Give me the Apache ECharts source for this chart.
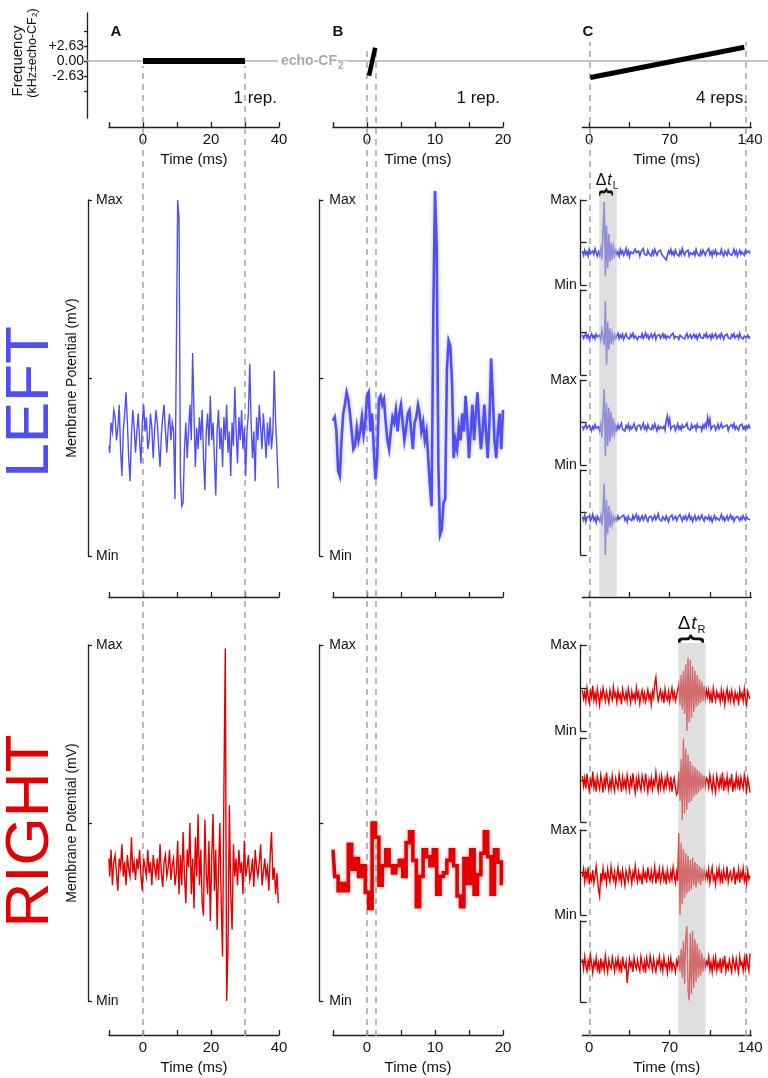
<!DOCTYPE html>
<html>
<head>
<meta charset="utf-8">
<script src="https://cdn.jsdelivr.net/npm/echarts@6.0.0/dist/echarts.min.js"></script>
<style>
html,body{margin:0;padding:0;background:#ffffff;}
#chart{width:768px;height:1078px;}
</style>
</head>
<body>
<div id="chart"></div>
<script>
// ================= DATA =================
// stimulus panel (frequency re. echo-CF2, kHz)
const freqTickValues = [-5.26, -2.63, 0, 2.63, 5.26];
const freqLabelValues = [-2.63, 0, 2.63];
const echoCF2Level = 0;
const stimA = [[0, 0], [30, 0]];
const stimB = [[0.3, -2.6], [1.2, 2.3]];
const stimC = [[1, -2.9], [135, 2.4]];
const stimMarkersA = [0, 30];
const stimMarkersB = [0, 1.35];
const stimMarkersC = [0, 136];
const responseWindowL = [8.7, 23.9];
const responseWindowR = [77.5, 101.3];
// time axes
const timeTicksC = [0, 35, 70, 105, 140];
const timeLabelsA = [0, 20, 40];
const timeLabelsB = [0, 10, 20];
const timeLabelsC = [0, 70, 140];
// membrane potential, normalised (-100 = Min, 100 = Max)
const potentialTicks = [-100, 0, 100];
const potentialLabels = [-100, 100];
// sampling [start ms, step ms]
const sampA = [-10, 0.4];
const sampBL = [-5, 0.25];
const sampBR = [-5, 0.5];
const sampC = [-6, 1];

const leftA = [-38,-42,-25,-30,-18,-22,-35,-28,-15,-40,-55,-30,-20,-8,-25,-45,-58,-32,-18,-28,-42,-30,-20,-35,-48,-25,-15,-30,-22,-40,-35,-20,-28,-45,-30,-18,-25,-38,-50,-32,-22,-15,-30,-42,-28,-20,-35,-25,-30,-68,
12,100,90,-55,-72,-70,-40,
-25,-45,-30,-15,-35,14,-20,-50,-28,-40,-22,-35,-18,-45,-63,-30,-20,-38,-10,-35,-25,-45,-66,-30,-18,-40,-28,-50,-22,-35,-15,-42,-30,-55,-25,-38,-5,-30,-48,-22,-35,-18,-40,-28,-55,-30,-20,8,-25,-45,-30,-58,-22,-35,-15,-28,-40,-20,-32,-45,-25,-38,-22,-40,-30,4,-25,-40,-62];

const leftB = [-24,-22,-30,-52,-55,-35,-20,-15,-8,-12,-20,-30,-40,-38,-28,-35,-30,-22,-32,-25,-10,-8,-30,-20,-40,-57,-45,-12,-10,-15,-12,-25,-35,-40,-30,-22,-25,-18,-30,-20,
-15,-25,-35,-28,-20,-18,-30,-40,-25,-22,-15,-20,-30,-25,-35,-30,-45,-60,
-72,36,105,74,-50,-88,-85,-70,-68,5,21,18,-2,-45,-35,-40,-28,-35,-20,-30,-10,-25,-45,-30,-15,-35,-20,-8,-25,-40,-30,-15,-30,-45,-25,11,-10,-35,-45,-30,-20,-40,-18];

const leftC1 = [-20,-30,-18,-28,-22,-32,-16,-26,-30,-20,-28,-14,-24,-32,-22,
-30,-15,-40,30,95,-80,40,-60,20,-45,0,-40,-10,-30,
-18,-28,-22,-32,-16,-26,-20,-30,-24,-14,-28,-20,-34,-22,-18,-26,-30,-16,-24,-28,
-20,-32,-22,-26,-14,-28,-24,-30,-18,-26,-22,-32,-20,-28,-16,-24,-30,-22,-26,-18,
-28,-24,-34,-38,-41,-30,-20,-26,-16,-28,-22,-30,-18,-26,-24,-32,-20,-28,-14,-24,
-30,-22,-26,-18,-32,-24,-20,-28,-22,-30,-16,-26,-24,-32,-20,-28,-18,-24,-30,-22,
-26,-14,-28,-22,-32,-20,-26,-18,-30,-24,-22,-28,-16,-26,-32,-20,-24,-30,-18,-26,
-22,-30,-24,-16,-28,-20,-32,-24,-18,-28,-22,-26,-30,-18,-24,-28,-20,-26];

const leftC2 = [-5,-14,-8,-2,-12,-6,-16,-9,-3,-12,-7,-15,-4,-10,-13,
-6,-18,5,-12,-30,73,-76,25,-40,10,-28,-2,-20,-5,
-14,-8,-2,-14,-6,-12,-4,-16,-9,-3,-11,-7,-15,-5,-10,-2,-13,-8,-4,-17,
-9,-6,-12,-3,-14,-8,-1,-11,-6,-15,-9,-4,-13,-7,-2,-16,-8,-11,-5,-14,
-9,-3,-12,-6,-15,-8,-4,-13,-7,-10,-2,-14,-9,-5,-11,-16,-6,-3,-12,-8,
-15,-7,-2,-13,-9,-5,-14,-10,-4,-12,-6,-16,-8,-3,-11,-7,-14,-5,-10,-2,
-13,-9,-6,-15,-4,-12,-8,-3,-14,-10,-6,-13,-2,-9,-16,-7,-11,-4,-12,-8,
-15,-5,-10,-3,-13,-9,-6,-14,-2,-11,-7,-15,-8,-4,-12,-6,-13,-9];

const leftC3 = [-8,-16,-10,-4,-14,-18,-7,-12,-20,-9,-15,-5,-13,-17,-10,
-20,-5,-35,20,78,-78,45,-55,35,-45,25,-35,10,-25,
-8,-18,-6,-14,-10,-2,-16,-12,-20,-7,-13,-4,-17,-9,-15,-11,-3,-14,-19,-8,
-12,-6,-16,-10,-2,-15,-9,-18,-5,-13,-11,-17,-7,-14,-3,-12,-20,-8,-15,-10,
-6,-14,-9,-18,5,16,-4,8,-16,-10,-13,-7,-19,-11,-3,-15,-9,-17,-6,-12,
-16,-8,-2,-14,-10,-18,-5,-13,-11,-7,-17,-4,-12,-15,-9,-19,-6,-13,-3,-11,
12,-5,8,-16,-10,-14,-7,-18,-12,-4,-15,-9,-2,-13,-17,-8,-11,-6,-19,-10,
-14,-5,-12,-3,-16,-9,-13,-18,-7,-11,-4,-15,-10,-17,-8,-13,-6,-14];

const leftC4 = [-10,-18,-6,-22,-12,-16,-8,-20,-14,-4,-18,-12,-24,-9,-15,
-20,-8,-30,10,68,-100,30,-50,15,-35,-5,-28,-10,-20,
-12,-18,-8,-16,-20,-10,-14,-6,-18,-12,-22,-9,-15,-11,-19,-7,-16,-13,-4,-17,
-10,-20,-14,-8,-18,-12,-6,-16,-21,-11,-15,-9,-19,-13,-7,-17,-11,-3,-16,-14,
-20,-10,-12,-18,-8,-15,-22,-11,-14,-6,-17,-13,-9,-19,-12,-16,-5,-14,-20,-10,
-15,-8,-18,-12,-4,-16,-11,-21,-13,-7,-19,-14,-9,-17,-12,-6,-15,-20,-10,-13,
-16,-8,-18,-11,-22,-14,-7,-17,-12,-9,-19,-13,-5,-16,-11,-20,-14,-8,-18,-12,
-6,-15,-10,-21,-13,-17,-9,-14,-19,-11,-16,-7,-13,-18,-10,-15,-12,-17];

const rightA = [-20,-30,-15,-35,-22,-18,-28,-38,-20,-25,-12,-30,-22,-35,-18,-26,-30,-8,-28,-22,-32,-20,-26,-15,-30,
-38,-20,-25,-30,-15,-28,-22,-35,-18,-25,-30,-20,-32,-12,-28,-36,-22,-18,-30,-25,-15,-32,-24,-20,-35,
-28,-10,-40,-18,-35,-5,-30,-45,-15,-25,0,-40,-20,-48,-8,-30,5,-35,-15,-45,-52,2,-28,-40,-10,
-55,-20,5,-38,-15,-60,-28,0,-45,-75,20,98,
-100,-70,10,-40,-60,-12,-30,-20,
-35,-15,-28,-22,-40,-10,-30,-25,-18,-32,-28,-20,-36,-15,-25,-30,-22,-12,-35,-28,-20,-30,-25,-38,-18,-5,-32,-25,-40,-28,-45];

const rightB = [-15,-30,-38,-34,-38,-12,-26,-20,-30,-24,-39,-48,0,-8,-35,-24,-15,-24,-28,-24,-21,-30,-11,-5,-21,-47,-30,-15,-19,-24,-15,-40,-30,-28,-21,-15,-24,-41,-47,-20,-34,-15,-40,-29,-17,-5,-19,-40,-15,-22,-34];

const rightC1 = [-5,-25,-10,-30,0,-18,-35,-8,-22,5,-28,-12,-32,-2,-20,-40,-10,-25,0,-15,
-30,-8,-22,-35,-5,-18,-28,2,-20,-12,-33,-6,-24,-15,-38,-3,-20,-28,-10,-30,
-2,-18,-35,-8,-25,-14,-30,0,-22,-10,-36,-16,-5,-28,-12,-32,-20,-4,-26,-15,
-38,-8,-22,10,25,-10,-30,-18,-5,-25,-12,-35,-2,-20,-28,-8,-32,-15,0,-24,-10,-30,-18,
-20,10,-40,30,-50,40,-60,55,-100,70,-80,65,-70,50,-55,40,-45,30,-40,20,-35,15,-30,5,-25,-5,
-20,-5,-28,-12,-35,0,-18,-30,-8,-22,-14,-32,-4,-25,-10,-38,-16,-2,-28,-12,
-30,-6,-20,-35,-10,-24,-15,-40,-5,-22,-12,-30,-2,-26,-40,-8,-18,-25];

const rightC2 = [10,-15,5,-20,15,-8,-25,0,-12,20,-18,-2,-28,8,-10,-22,12,-5,-30,2,
-15,18,-8,-24,-1,-20,10,-12,-26,4,-9,-20,14,-4,-28,6,-16,0,-22,12,
-6,-25,3,-14,16,-10,-30,2,-18,8,-12,-24,10,-4,-20,15,-8,-28,0,-16,
6,-22,-2,-12,18,-6,-26,4,-18,10,-10,-24,2,-15,12,-4,-20,8,-28,-6,5,-18,-35,
-30,20,-50,50,-96,98,-80,75,-70,60,-55,45,-50,35,-40,30,-35,25,-30,20,-25,15,-20,10,-15,5,
0,-18,12,-8,-25,6,-14,-30,10,-4,-20,4,-12,18,-26,-2,-16,8,-22,0,
-10,14,-28,-6,-18,10,-14,2,-24,6,-8,-20,12,-4,-26,4,-12,-30];

const rightC3 = [-10,8,-22,2,-15,12,-28,-5,-18,6,-25,-8,15,-12,-40,-56,-2,-20,10,-14,
-4,-26,8,-10,-22,14,-6,-18,2,-28,-8,12,-16,-2,-24,6,-12,-30,4,-9,
-20,10,-4,-26,0,-14,16,-8,-22,2,-16,-6,-28,8,-12,-2,-24,12,-10,-18,
4,-20,-6,14,-26,-2,-14,8,-22,-8,10,-18,-4,-28,6,-12,-20,2,-16,12,-8,-24,0,
-20,93,-100,70,-75,55,-60,45,-50,40,-45,30,-40,35,-30,25,-35,20,-25,15,-30,10,-20,5,-15,0,
-14,8,-24,-4,12,-18,-8,-28,4,-12,10,-20,-2,-26,6,-10,-16,14,-22,-6,
2,-18,-10,12,-28,-4,-14,8,-24,0,-12,10,-20,-6,-26,4,-16,-8];

const rightC4 = [6,-18,12,-10,-24,2,-14,16,-6,-28,0,-12,10,-20,-4,-30,8,-16,-2,-22,
14,-8,-26,4,-12,-18,10,-6,-24,2,-14,8,-20,-4,-28,12,-10,-16,0,-53,
-22,6,-12,-2,-26,10,-8,-18,4,-14,-24,12,-6,-20,0,-28,8,-10,-16,14,
-4,-22,6,-14,-26,2,-8,12,-18,-2,-24,10,-12,-6,-28,4,-16,8,-20,-4,-10,-26,2,
-10,15,-25,30,-40,50,-55,60,87,-70,-96,70,-80,75,-65,55,-50,45,-40,30,-35,20,-25,10,-15,0,
-8,12,-20,-2,-26,6,-14,10,-22,-4,-16,8,-28,2,-10,14,-24,-6,-18,4,
-12,-26,10,-4,-20,6,-14,-28,12,-8,-2,-22,8,-16,18,-10,-24,20];

// ================= RENDER =================
const FF = '"Liberation Sans", Arial, Helvetica, sans-serif';
const BLUE = '#5050f2';
const RED = '#e40000';
const AXC = '#1e1e1e';
const TXT = '#111111';

function samples(samp, vals) {
  return vals.map((v, i) => [Math.round((samp[0] + i * samp[1]) * 1000) / 1000, v]);
}

function xAx(gi, min, max, o) {
  o = o || {};
  const a = {
    type: 'value', gridIndex: gi, min: min, max: max, show: o.show !== false,
    position: 'bottom', offset: o.offset || 0,
    splitLine: {show: false},
    axisLine: {show: true, onZero: false, lineStyle: {color: AXC, width: 1.3}},
    axisTick: {show: true, inside: true, length: 5, lineStyle: {color: AXC, width: 1.3}},
    axisLabel: {show: false}
  };
  if (o.interval) a.interval = o.interval;
  if (o.ticks) a.axisTick.customValues = o.ticks;
  if (o.labels) {
    a.axisLabel = {show: true, customValues: o.labels, margin: 5, color: TXT, fontSize: 15, fontFamily: FF};
  }
  if (o.name) {
    a.name = o.name; a.nameLocation = 'middle'; a.nameGap = o.nameGap || 25;
    a.nameTextStyle = {color: TXT, fontSize: 15, fontFamily: FF};
  }
  return a;
}

function yAx(gi, min, max, o) {
  o = o || {};
  const a = {
    type: 'value', gridIndex: gi, min: min, max: max, show: o.show !== false,
    position: 'left', offset: o.offset || 0,
    splitLine: {show: false},
    axisLine: {show: true, onZero: false, lineStyle: {color: AXC, width: 1.3}},
    axisTick: {show: true, inside: o.tickInside !== false, length: o.tickLen || 4,
      lineStyle: {color: AXC, width: 1.3}, customValues: o.ticks || potentialTicks},
    axisLabel: {show: false}
  };
  if (o.labels) {
    a.axisLabel = {show: true, customValues: o.labels, inside: !!o.labelInside, margin: o.margin || 6,
      color: TXT, fontSize: o.fontSize || 14, fontFamily: FF, formatter: o.formatter};
  }
  if (o.name) {
    a.name = o.name; a.nameLocation = 'middle'; a.nameGap = o.nameGap || 10; a.nameRotate = 90;
    a.nameTextStyle = {color: TXT, fontSize: 14, fontFamily: FF};
  }
  return a;
}

const mm = v => (v > 0 ? 'Max' : 'Min');
const fq = v => (v > 0 ? '+' : '') + v.toFixed(2);

const colA = [109, 170], colB = [333, 170], colC = [582.4, 168.8];
const topsLC = [200, 290, 380, 470], hLC = [85, 85, 85, 85];
const topsRC = [645, 738, 830, 921], hRC = [86, 84, 85, 81];

const grids = [];
const xAxes = [];
const yAxes = [];
const series = [];
function g(left, width, top, height) {
  grids.push({left: left, width: width, top: top, height: height, outerBoundsMode: 'none', containLabel: false});
  return grids.length - 1;
}

// ---- top row: stimulus ----
let gi = g(colA[0], colA[1], 13, 105);
xAxes.push(xAx(gi, -10, 40, {interval: 10, offset: 9, labels: timeLabelsA, name: 'Time (ms)', nameGap: 25}));
yAxes.push(yAx(gi, -10, 8.4, {offset: 22, ticks: freqTickValues, tickInside: false, tickLen: 3,
  labels: freqLabelValues, margin: 3, fontSize: 14, formatter: fq}));
series.push({type: 'line', xAxisIndex: gi, yAxisIndex: gi, data: stimA, symbol: 'none', z: 6,
  lineStyle: {color: '#000', width: 6, cap: 'butt'}});

gi = g(colB[0], colB[1], 13, 105);
xAxes.push(xAx(gi, -5, 20, {interval: 5, offset: 9, labels: timeLabelsB, name: 'Time (ms)', nameGap: 25}));
yAxes.push(yAx(gi, -10, 8.4, {show: false}));
series.push({type: 'line', xAxisIndex: gi, yAxisIndex: gi, data: stimB, symbol: 'none', z: 6,
  lineStyle: {color: '#000', width: 4.5, cap: 'butt'}});

gi = g(colC[0], colC[1], 13, 105);
xAxes.push(xAx(gi, -6, 141, {ticks: timeTicksC, offset: 9, labels: timeLabelsC, name: 'Time (ms)', nameGap: 25}));
yAxes.push(yAx(gi, -10, 8.4, {show: false}));
series.push({type: 'line', xAxisIndex: gi, yAxisIndex: gi, data: stimC, symbol: 'none', z: 6,
  lineStyle: {color: '#000', width: 5, cap: 'butt'}});

gi = g(87, 681, 13, 105);
xAxes.push(xAx(gi, 0, 1, {show: false}));
yAxes.push(yAx(gi, -10, 8.4, {show: false}));
series.push({type: 'line', xAxisIndex: gi, yAxisIndex: gi, data: [], z: 1,
  markLine: {silent: true, z: 1, symbol: ['none', 'none'], label: {show: false},
    lineStyle: {color: '#b0b0b0', width: 1.5, type: 'solid'}, data: [{yAxis: echoCF2Level}]}});

// ---- trace helper ----
function trace(gIdx, data, color, width, step, extra) {
  const s = {type: 'line', xAxisIndex: gIdx, yAxisIndex: gIdx, data: data, symbol: 'none', showSymbol: false,
    clip: false, silent: true, z: 3, lineStyle: {color: color, width: width, join: 'miter'}};
  if (step) s.step = step;
  if (extra) Object.assign(s.lineStyle, extra);
  return s;
}

// ---- middle row: LEFT ----
gi = g(colA[0], colA[1], 200, 356);
xAxes.push(xAx(gi, -10, 40, {interval: 10, offset: 41}));
yAxes.push(yAx(gi, -100, 100, {offset: 21, labels: potentialLabels, labelInside: true, margin: 8, formatter: mm,
  name: 'Membrane Potential (mV)', nameGap: 9}));
series.push(trace(gi, samples(sampA, leftA), BLUE, 1.4, 'middle'));

gi = g(colB[0], colB[1], 200, 356);
xAxes.push(xAx(gi, -5, 20, {interval: 5, offset: 41}));
yAxes.push(yAx(gi, -100, 100, {offset: 13.7, labels: potentialLabels, labelInside: true, margin: 10, formatter: mm}));
series.push(trace(gi, samples(sampBL, leftB), BLUE, 2.6, 'end', {shadowColor: 'rgba(80,80,240,0.35)', shadowBlur: 4}));

[leftC1, leftC2, leftC3, leftC4].forEach((arr, k) => {
  const id = g(colC[0], colC[1], topsLC[k], hLC[k]);
  xAxes.push(xAx(id, -6, 141, {show: false}));
  const yo = {offset: 1.7, tickLen: 6};
  if (k === 0 || k === 2) { yo.labels = potentialLabels; yo.margin = 4; yo.formatter = mm; }
  yAxes.push(yAx(id, -100, 100, yo));
  series.push(trace(id, samples(sampC, arr), BLUE, 1.6));
});

// ---- bottom row: RIGHT ----
gi = g(colA[0], colA[1], 645, 356);
xAxes.push(xAx(gi, -10, 40, {interval: 10, offset: 34, labels: timeLabelsA, name: 'Time (ms)', nameGap: 25}));
yAxes.push(yAx(gi, -100, 100, {offset: 21, labels: potentialLabels, labelInside: true, margin: 8, formatter: mm,
  name: 'Membrane Potential (mV)', nameGap: 9}));
series.push(trace(gi, samples(sampA, rightA), RED, 1.4, 'middle'));

gi = g(colB[0], colB[1], 645, 356);
xAxes.push(xAx(gi, -5, 20, {interval: 5, offset: 34, labels: timeLabelsB, name: 'Time (ms)', nameGap: 25}));
yAxes.push(yAx(gi, -100, 100, {offset: 13.7, labels: potentialLabels, labelInside: true, margin: 10, formatter: mm}));
series.push(trace(gi, samples(sampBR, rightB), RED, 3.6, 'middle', {shadowColor: 'rgba(230,0,0,0.3)', shadowBlur: 4}));

[rightC1, rightC2, rightC3, rightC4].forEach((arr, k) => {
  const id = g(colC[0], colC[1], topsRC[k], hRC[k]);
  xAxes.push(xAx(id, -6, 141, {show: false}));
  const yo = {offset: 1.7, tickLen: 6};
  if (k === 0 || k === 2) { yo.labels = potentialLabels; yo.margin = 4; yo.formatter = mm; }
  yAxes.push(yAx(id, -100, 100, yo));
  series.push(trace(id, samples(sampC, arr), RED, 1.4));
});

// ---- dashed stimulus markers (span all rows) ----
function dashes(col, min, max, top, markers) {
  const id = g(col[0], col[1], top, 1036 - top);
  xAxes.push(xAx(id, min, max, {show: false}));
  yAxes.push(yAx(id, 0, 1, {show: false}));
  series.push({type: 'line', xAxisIndex: id, yAxisIndex: id, data: [], z: 1,
    markLine: {silent: true, z: 1, symbol: ['none', 'none'], label: {show: false},
      lineStyle: {color: '#a9a9a9', width: 1.6, type: [6, 5]},
      data: markers.map(v => ({xAxis: v}))}});
}
dashes(colA, -10, 40, 66, stimMarkersA);
dashes(colB, -5, 20, 46, stimMarkersB);
dashes(colC, -6, 141, 42, stimMarkersC);

// ---- response windows (grey bands) + column C time axes ----
gi = g(colC[0], colC[1], 190, 407);
xAxes.push(xAx(gi, -6, 141, {ticks: timeTicksC}));
yAxes.push(yAx(gi, 0, 1, {show: false}));
series.push({type: 'line', xAxisIndex: gi, yAxisIndex: gi, data: [], z: 10,
  markArea: {silent: true, z: 10, itemStyle: {color: 'rgba(196,196,196,0.55)'},
    data: [[{xAxis: responseWindowL[0]}, {xAxis: responseWindowL[1]}]]}});

gi = g(colC[0], colC[1], 643, 392);
xAxes.push(xAx(gi, -6, 141, {ticks: timeTicksC, labels: timeLabelsC, name: 'Time (ms)', nameGap: 25}));
yAxes.push(yAx(gi, 0, 1, {show: false}));
series.push({type: 'line', xAxisIndex: gi, yAxisIndex: gi, data: [], z: 10,
  markArea: {silent: true, z: 10, itemStyle: {color: 'rgba(196,196,196,0.55)'},
    data: [[{xAxis: responseWindowR[0]}, {xAxis: responseWindowR[1]}]]}});

// ---- annotations ----
function T(x, y, text, o) {
  o = o || {};
  return {type: 'text', x: x, y: y, rotation: o.rot || 0, scaleX: o.sx || 1, scaleY: o.sy || 1, z: 100,
    style: {text: text, fill: o.color || TXT,
      font: (o.italic ? 'italic ' : '') + (o.bold ? 'bold ' : '') + (o.size || 15) + 'px ' + FF,
      textAlign: o.align || 'center', align: o.align || 'center',
      textVerticalAlign: 'middle', verticalAlign: 'middle',
      backgroundColor: o.bg, padding: o.pad}};
}
const R90 = Math.PI / 2;
const graphics = [
  T(18, 61, 'Frequency', {rot: R90, size: 15}),
  T(33, 53, '(kHz\u00b1echo-CF\u2082)', {rot: R90, size: 12.5}),
  T(116, 32, 'A', {bold: true, size: 15}),
  T(338, 32, 'B', {bold: true, size: 15}),
  T(588, 32, 'C', {bold: true, size: 15}),
  T(277, 98, '1 rep.', {align: 'right', size: 17}),
  T(500, 98, '1 rep.', {align: 'right', size: 17}),
  T(748, 98, '4 reps.', {align: 'right', size: 17}),
  T(337, 61, 'echo-CF', {align: 'right', size: 14, bold: true, color: '#aaaaaa', bg: '#ffffff', pad: [2, 0, 2, 3]}),
  T(337, 66, '2', {align: 'left', size: 10, bold: true, color: '#aaaaaa', bg: '#ffffff', pad: [0, 3, 0, 1]}),
  T(31, 402, 'LEFT', {rot: R90, size: 62, color: BLUE}),
  T(31, 831, 'RIGHT', {rot: R90, size: 62, color: RED}),
  T(601, 181, '\u0394', {size: 16}),
  T(609.5, 181, 't', {size: 16, italic: true}),
  T(615.5, 186, 'L', {size: 10}),
  T(606, 192, '{', {rot: -R90, size: 15, bold: true, sx: 1.5}),
  T(684, 624, '\u0394', {size: 19}),
  T(694, 624, 't', {size: 19, italic: true}),
  T(701.5, 630, 'R', {size: 11}),
  T(691.5, 639, '{', {rot: -R90, size: 15, bold: true, sx: 1.5, sy: 1.85})
];

const chart = echarts.init(document.getElementById('chart'), null, {renderer: 'canvas'});
chart.setOption({
  animation: false,
  backgroundColor: '#ffffff',
  grid: grids,
  xAxis: xAxes,
  yAxis: yAxes,
  series: series,
  graphic: {elements: graphics}
});
</script>
</body>
</html>
